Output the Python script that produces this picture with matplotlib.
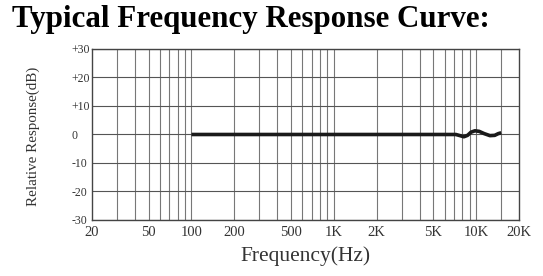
import matplotlib.pyplot as plt
import numpy as np

# Tick labels and grid
x_ticks = [20, 50, 100, 200, 500, 1000, 2000, 5000, 10000, 20000]
x_tick_labels = ['20', '50', '100', '200', '500', '1K', '2K', '5K', '10K', '20K']
x_grid = [30, 40, 50, 60, 70, 80, 90, 100,
          200, 300, 400, 500, 600, 700, 800, 900, 1000,
          2000, 3000, 4000, 5000, 6000, 7000, 8000, 9000, 10000, 15000]
y_ticks = [30, 20, 10, 0, -10, -20, -30]
y_tick_labels = ['+30', '+20', '+10', '0', '-10', '-20', '-30']

# Response curve
freq = [100, 1000, 5000, 7200, 7700, 8200, 8700, 9200, 9800, 10500, 11400, 12500, 13500, 14300, 15000]
resp = [0, 0, 0, 0, -0.4, -0.8, -0.3, 0.8, 1.3, 1.1, 0.3, -0.4, -0.3, 0.3, 0.6]

fig = plt.figure(figsize=(5.43, 2.76), dpi=100)
ax = fig.add_axes([0.1694, 0.2029, 0.7864, 0.6196])

serif = ['Liberation Serif', 'DejaVu Serif']

ax.set_xscale('log')
ax.set_xlim(20, 20000)
ax.set_ylim(-30, 30)

for f in x_grid:
    ax.axvline(f, color='#777777', lw=0.8, zorder=1)
for y in y_ticks:
    ax.axhline(y, color='#555555', lw=0.8, zorder=1)

ax.plot(freq, resp, color='#1a1a1a', lw=2.6, solid_capstyle='butt', zorder=3)

ax.set_xticks(x_ticks)
ax.set_xticklabels(x_tick_labels, family=serif, fontsize=10.5, color='#333333')
ax.xaxis.set_minor_locator(plt.NullLocator())
ax.set_yticks(y_ticks)
ax.set_yticklabels(y_tick_labels, family=serif, fontsize=8.5, color='#333333', ha='left')
ax.tick_params(axis='x', length=0, pad=4.5)
ax.tick_params(axis='y', length=0, pad=15)

for s in ax.spines.values():
    s.set_color('#444444')
    s.set_linewidth(1.0)

ax.set_xlabel('Frequency(Hz)', family=serif, fontsize=15.5, color='#333333', labelpad=5)
fig.text(0.062, 0.505, 'Relative Response(dB)', rotation=90, ha='center', va='center',
         family=serif, fontsize=10.8, color='#333333')

fig.text(0.022, 0.93, 'Typical Frequency Response Curve:', ha='left', va='center',
         family=serif, fontsize=22.3, fontweight='bold', color='black')

fig.savefig('out.png', dpi=100)
